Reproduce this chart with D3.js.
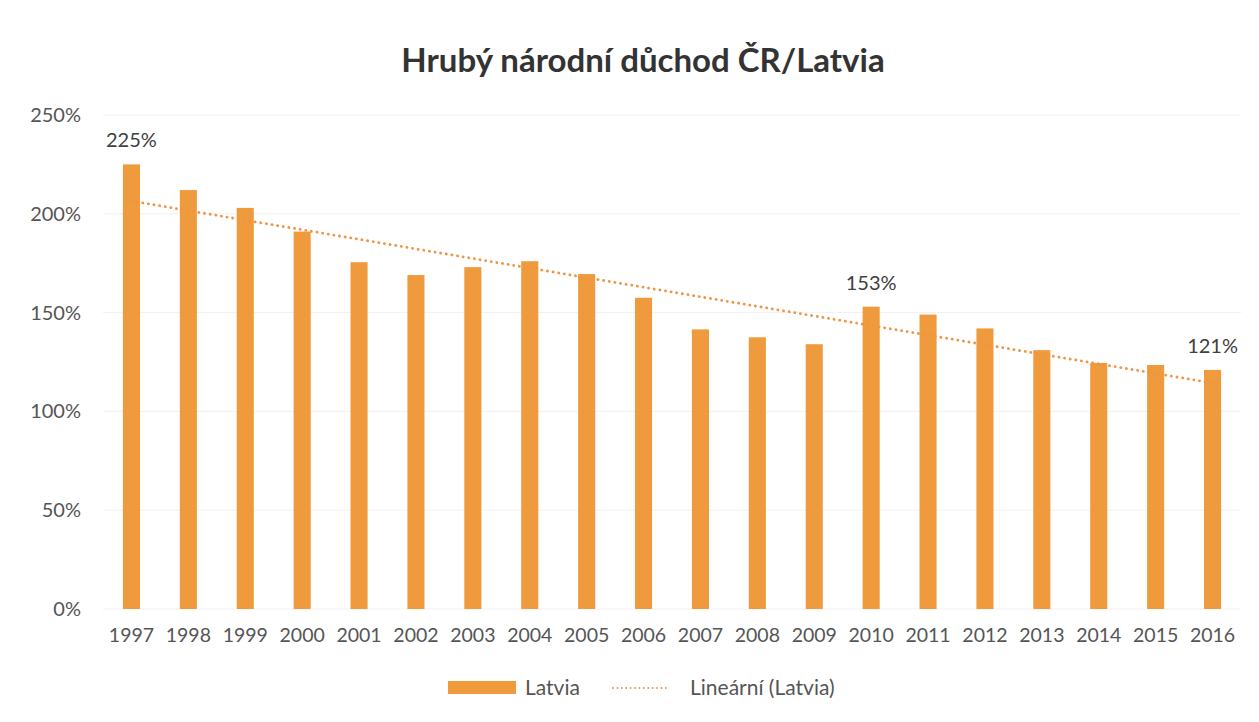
<!DOCTYPE html>
<html>
<head>
<meta charset="utf-8">
<script src="https://cdn.jsdelivr.net/npm/d3@7"></script>
<style>
  html, body { margin: 0; padding: 0; background: #ffffff; }
  svg { display: block; }
</style>
</head>
<body>
<svg id="chart" width="1259" height="722"></svg>
<script>
const title = "Hrubý národní důchod ČR/Latvia";
const years = ["1997","1998","1999","2000","2001","2002","2003","2004","2005","2006","2007","2008","2009","2010","2011","2012","2013","2014","2015","2016"];
const latvia = [225, 212, 203, 191, 175.5, 169, 173, 176, 169.5, 157.5, 141.5, 137.5, 134, 153, 149, 142, 131, 124.5, 123.5, 121];
const labelledYears = ["1997", "2010", "2016"];
const labelTexts = ["225%", "153%", "121%"];
const yTicks = [0, 50, 100, 150, 200, 250];
const legendLabels = ["Latvia", "Lineární (Latvia)"];

const font = "Lato, 'Open Sans', sans-serif";
const barColor = "#EF9A3D";
const trendColor = "#EE9545";
const textColor = "#555555";

const svg = d3.select("#chart");

const x = d3.scaleBand().domain(years).range([103, 1241]).paddingInner(0.70).paddingOuter(0.35);
const y = d3.scaleLinear().domain([0, 250]).range([609, 115]);

// gridlines
svg.append("g").selectAll("line").data(yTicks).join("line")
  .attr("x1", 103).attr("x2", 1241)
  .attr("y1", d => y(d)).attr("y2", d => y(d))
  .attr("stroke", "#f1f1f1").attr("stroke-width", 1);

// y axis
const yAxis = d3.axisLeft(y).tickValues(yTicks).tickFormat(d => d + "%").tickSize(0).tickPadding(0);
const gy = svg.append("g").attr("transform", "translate(81,0)").call(yAxis);
gy.select(".domain").remove();
gy.selectAll("text").attr("font-family", font).attr("font-size", 20).attr("fill", textColor);

// x axis
const xAxis = d3.axisBottom(x).tickSize(0).tickPadding(0);
const gx = svg.append("g").attr("transform", "translate(0,624)").call(xAxis);
gx.select(".domain").remove();
gx.selectAll("text").attr("font-family", font).attr("font-size", 19.5).attr("fill", textColor).attr("dy", "0.9em");

// bars
svg.append("g").selectAll("rect").data(years).join("rect")
  .attr("x", d => x(d))
  .attr("width", x.bandwidth())
  .attr("y", (d, i) => y(latvia[i]))
  .attr("height", (d, i) => y(0) - y(latvia[i]))
  .attr("fill", barColor);

// linear trend (least squares)
const n = latvia.length;
const mx = d3.mean(d3.range(n));
const my = d3.mean(latvia);
const sxy = d3.sum(latvia, (v, i) => (i - mx) * (v - my));
const sxx = d3.sum(d3.range(n), i => (i - mx) * (i - mx));
const slope = sxy / sxx;
const intercept = my - slope * mx;
const cx = d => x(d) + x.bandwidth() / 2;
svg.append("line")
  .attr("x1", cx(years[0])).attr("y1", y(intercept))
  .attr("x2", cx(years[n - 1])).attr("y2", y(intercept + slope * (n - 1)))
  .attr("stroke", trendColor).attr("stroke-width", 2.8)
  .attr("stroke-linecap", "round")
  .attr("stroke-dasharray", "0.1,5.6");

// data labels
svg.append("g").selectAll("text").data(labelledYears).join("text")
  .attr("x", d => cx(d))
  .attr("y", d => y(latvia[years.indexOf(d)]) - 17)
  .attr("text-anchor", "middle")
  .attr("font-family", font).attr("font-size", 20).attr("fill", "#404040")
  .text((d, i) => labelTexts[i]);

// title
svg.append("text")
  .attr("x", 643).attr("y", 72)
  .attr("text-anchor", "middle")
  .attr("font-family", font).attr("font-weight", "bold").attr("font-size", 33)
  .attr("fill", "#333333")
  .text(title);

// legend
const lg = svg.append("g");
lg.append("rect").attr("x", 448).attr("y", 681).attr("width", 68).attr("height", 13).attr("fill", barColor);
lg.append("text").attr("x", 525).attr("y", 695).attr("font-family", font).attr("font-size", 21).attr("fill", textColor).text(legendLabels[0]);
lg.append("line").attr("x1", 613).attr("x2", 670).attr("y1", 688).attr("y2", 688)
  .attr("stroke", trendColor).attr("stroke-width", 1.8).attr("stroke-linecap", "round").attr("stroke-dasharray", "0.1,4.3");
lg.append("text").attr("x", 690).attr("y", 695).attr("font-family", font).attr("font-size", 21).attr("fill", textColor).text(legendLabels[1]);
</script>
</body>
</html>
